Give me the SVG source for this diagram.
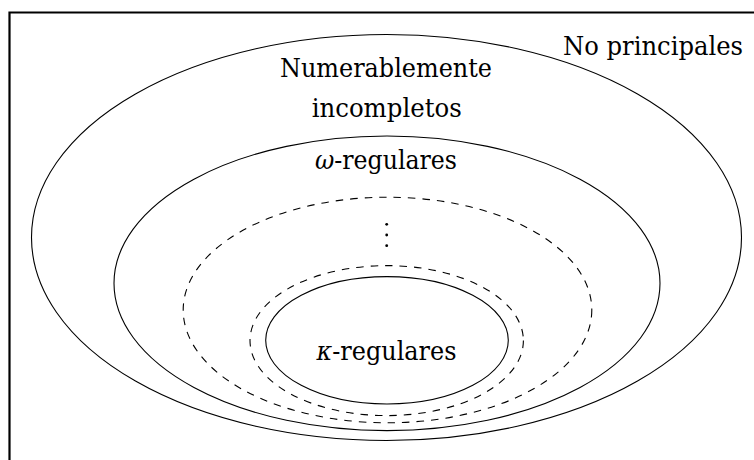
<svg xmlns="http://www.w3.org/2000/svg" width="754" height="460" viewBox="0 0 754 460">
<style>
.solid{fill:none;stroke:#000;stroke-width:1.1}
.dash{fill:none;stroke:#000;stroke-width:1.1;stroke-dasharray:7.5 7}
text{font-family:'DejaVu Serif','Liberation Serif',serif;font-size:26px;fill:#000;text-anchor:middle}
.m{font-style:italic}
</style>
<rect width="754" height="460" fill="#fff"/>
<g id="frame">
<path d="M9.5 460 V12.5 H754" fill="none" stroke="#000" stroke-width="2.2"/>
</g>
<g id="no-principales">
<ellipse class="solid" cx="386.5" cy="237.5" rx="355" ry="203"/>
<text x="653" y="55" textLength="180" lengthAdjust="spacingAndGlyphs">No principales</text>
</g>
<g id="numerablemente-incompletos">
<ellipse class="solid" cx="387" cy="283.3" rx="273" ry="147.3"/>
<text x="386" y="77" textLength="212" lengthAdjust="spacingAndGlyphs">Numerablemente</text>
<text x="386.7" y="117" textLength="150" lengthAdjust="spacingAndGlyphs">incompletos</text>
</g>
<g id="omega-regulares">
<ellipse class="dash" cx="387.5" cy="310" rx="204.3" ry="112.8"/>
<text x="386" y="169" textLength="142" lengthAdjust="spacingAndGlyphs"><tspan class="m">ω</tspan>-regulares</text>
<g id="dots">
<circle cx="386.7" cy="224.3" r="1.4"/>
<circle cx="386.7" cy="235" r="1.4"/>
<circle cx="386.7" cy="245.7" r="1.4"/>
</g>
</g>
<g id="intermedio">
<ellipse class="dash" cx="386.7" cy="340.6" rx="136.7" ry="75"/>
</g>
<g id="kappa-regulares">
<ellipse class="solid" cx="387" cy="340.3" rx="121.3" ry="63.7"/>
<text x="386.5" y="359.5" textLength="140" lengthAdjust="spacingAndGlyphs"><tspan class="m">κ</tspan>-regulares</text>
</g>
<g id="connectors"/>
</svg>
